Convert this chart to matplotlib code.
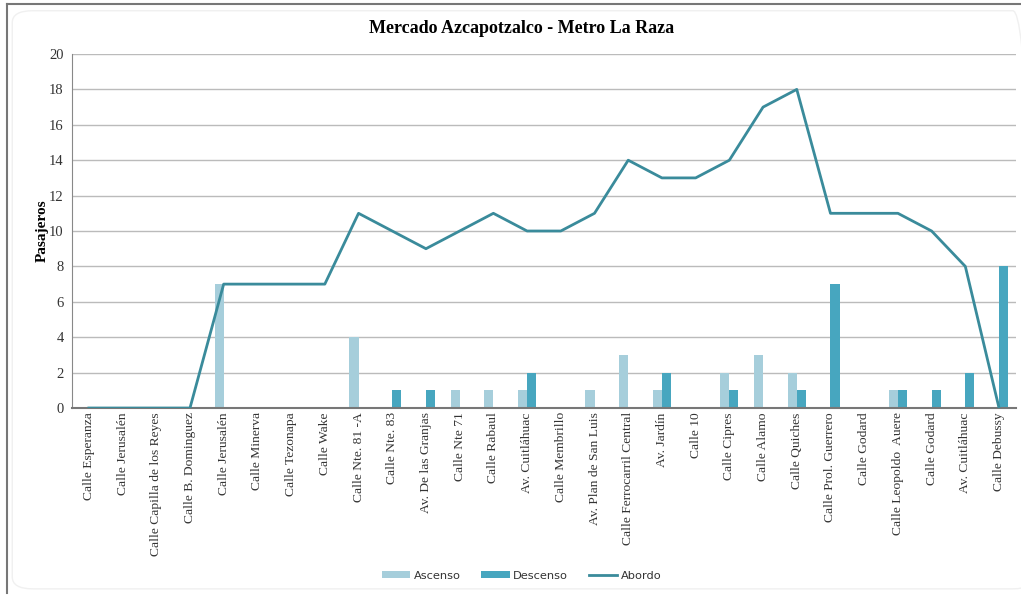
import numpy as np
import matplotlib
matplotlib.use("Agg")
import matplotlib.pyplot as plt
from matplotlib.lines import Line2D
from matplotlib.patches import FancyBboxPatch

# data
paradas = ["Calle Esperanza", "Calle Jerusalén", "Calle Capilla de los Reyes",
           "Calle B. Dominguez", "Calle Jerusalén", "Calle Minerva",
           "Calle Tezonapa", "Calle Wake", "Calle Nte. 81 -A", "Calle Nte. 83",
           "Av. De las Granjas", "Calle Nte 71", "Calle Rabaul", "Av. Cuitláhuac",
           "Calle Membrillo", "Av. Plan de San Luis", "Calle Ferrocarril Central",
           "Av. Jardín", "Calle 10", "Calle Cipres", "Calle Alamo",
           "Calle Quiches", "Calle Prol. Guerrero", "Calle Godard",
           "Calle Leopoldo  Auere", "Calle Godard", "Av. Cuitláhuac",
           "Calle Debussy"]
ascenso = [0, 0, 0, 0, 7, 0, 0, 0, 4, 0, 0, 1, 1, 1, 0, 1, 3, 1, 0, 2, 3, 2,
           0, 0, 1, 0, 0, 0]
descenso = [0, 0, 0, 0, 0, 0, 0, 0, 0, 1, 1, 0, 0, 2, 0, 0, 0, 2, 0, 1, 0, 1,
            7, 0, 1, 1, 2, 8]
abordo = [0, 0, 0, 0, 7, 7, 7, 7, 11, 10, 9, 10, 11, 10, 10, 11, 14, 13, 13,
          14, 17, 18, 11, 11, 11, 10, 8, 0]

c_asc = "#a6cedb"
c_desc = "#47a6bf"
c_line = "#3a8b9b"

fig = plt.figure(figsize=(10.21, 5.96), dpi=100)
ax = fig.add_axes([0.0705, 0.3154, 0.9245, 0.594])

x = np.arange(len(paradas))
w = 0.27
b1 = ax.bar(x - w / 2, ascenso, w, color=c_asc, label="Ascenso", zorder=2)
b2 = ax.bar(x + w / 2, descenso, w, color=c_desc, label="Descenso", zorder=2)
l1, = ax.plot(x, abordo, color=c_line, lw=2, label="Abordo", zorder=3)

ax.set_xlim(-0.5, len(paradas) - 0.5)
ax.set_ylim(0, 20)
ax.set_yticks(range(0, 21, 2))
ax.set_xticks(x)
ax.set_xticklabels(paradas, rotation=90, family="Liberation Serif",
                   fontsize=9.7, color="#333333")
for t in ax.get_yticklabels():
    t.set_family("Liberation Serif")
    t.set_fontsize(10.5)
    t.set_color("#333333")
ax.tick_params(axis="y", length=0, pad=6)
ax.tick_params(axis="x", length=0, pad=3)
ax.grid(axis="y", color="#bbbbbb", lw=1, zorder=0)
for s in ["top", "right"]:
    ax.spines[s].set_visible(False)
ax.spines["left"].set_color("#888888")
ax.spines["bottom"].set_color("#777777")
ax.spines["bottom"].set_linewidth(1.5)

ax.set_ylabel("Pasajeros", family="Liberation Serif", fontweight="bold",
              fontsize=11, labelpad=0)
fig.text(0.511, 0.953, "Mercado Azcapotzalco - Metro La Raza",
         family="Liberation Serif", fontweight="bold", fontsize=13,
         ha="center", va="center")

leg = fig.legend([b1, b2, l1], ["Ascenso", "Descenso", "Abordo"],
                 loc="center", bbox_to_anchor=(0.511, 0.034), ncol=3,
                 frameon=False, fontsize=8.2, handlelength=2.5,
                 handleheight=0.5, columnspacing=1.8, handletextpad=0.3)
for t in leg.get_texts():
    t.set_color("#333333")

# chart frame
fig.add_artist(Line2D([0.0064, 0.0064], [0.005, 0.993], color="#777777",
                      lw=1.5, transform=fig.transFigure))
fig.add_artist(Line2D([0.0064, 1.0], [0.993, 0.993], color="#777777",
                      lw=1.5, transform=fig.transFigure))
fig.add_artist(FancyBboxPatch((0.012, 0.012), 1.0, 0.97,
                              boxstyle="round,pad=0,rounding_size=0.02",
                              fc="none", ec="#f0f0f0", lw=1,
                              transform=fig.transFigure))

fig.savefig("out.png", dpi=100)
